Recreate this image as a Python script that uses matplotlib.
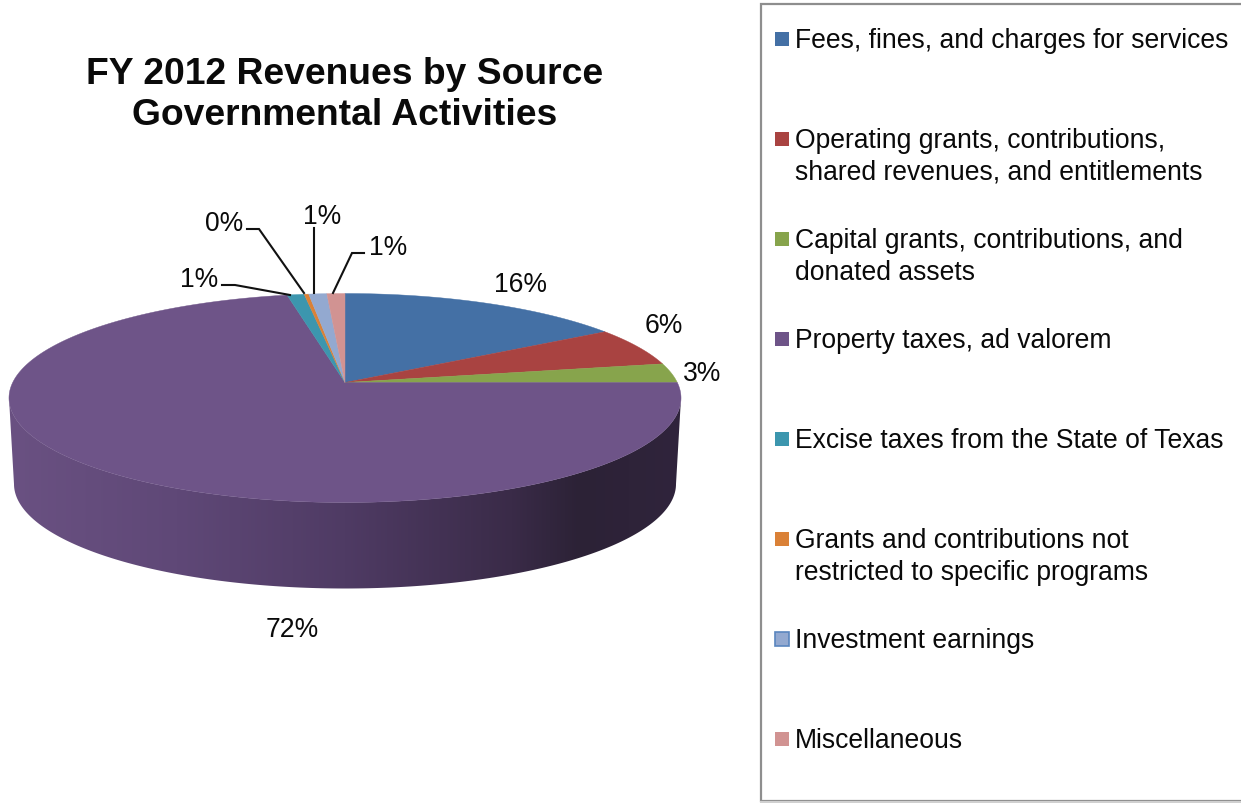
#!/usr/bin/python3

import numpy as np
import matplotlib
matplotlib.use("Agg")
import matplotlib.pyplot as plt
from matplotlib.colors import LinearSegmentedColormap
from matplotlib.patches import Polygon, Rectangle

# revenue share per source, percent
sources = [
    "Fees, fines, and charges for services",
    "Operating grants, contributions,\nshared revenues, and entitlements",
    "Capital grants, contributions, and\ndonated assets",
    "Property taxes, ad valorem",
    "Excise taxes from the State of Texas",
    "Grants and contributions not\nrestricted to specific programs",
    "Investment earnings",
    "Miscellaneous",
]
shares = [16, 6, 3, 71.8, 0.95, 0.25, 1.0, 1.0]
colors = ["#4470a5", "#a94341", "#87a44c", "#6e5488",
          "#3c96ae", "#da8137", "#93a9d0", "#d19392"]

title = "FY 2012 Revenues by Source\nGovernmental Activities"

# where each percent label sits, and the path of its leader line if it has one
label_pos = [(520, 285), (664, 326), (702, 374), (292, 630),
             (199, 280), (224, 224), (322, 217), (388, 248)]
leaders = {
    4: [(222, 286), (235, 286), (290, 296)],
    5: [(247, 230), (259, 230), (304, 294)],
    6: [(314, 229), (314, 294)],
    7: [(364, 254), (352, 254), (333, 294)],
}

FONT = "Liberation Sans"
TEXT = "#0a0a0a"

# disc geometry, in pixels
CX, CY = 345, 383.5    # pie centre as seen with perspective
PERSP = 0.1483
AX_R, AY_R = 332.3, 102.2


def project(u, v):
    # unit disc -> screen, far side (v > 0) shrinks a little
    w = 1 + PERSP * v
    return CX + AX_R * u / w, CY - AY_R * v / w


def wedge(start, stop):
    # angles run clockwise from twelve o'clock
    t = np.linspace(start, stop, max(int(stop - start) * 2, 8))
    t = np.radians(t)
    x, y = project(np.sin(t), np.cos(t))
    x0, y0 = project(0.0, 0.0)
    return np.column_stack([np.r_[x0, x], np.r_[y0, y]])


fig = plt.figure(figsize=(12.41, 8.04), dpi=100)
ax = fig.add_axes([0, 0, 1, 1])

# side wall, a horizontal shade clipped to the outline between both rims
t = np.linspace(np.pi, 2 * np.pi, 200)
top_x, top_y = 345 + 336 * np.cos(t), 399 - 104.5 * np.sin(t)
bot_x, bot_y = 345 + 331 * np.cos(t), 485 - 104.5 * np.sin(t)
wall = Polygon(np.column_stack([np.r_[top_x, bot_x[::-1]], np.r_[top_y, bot_y[::-1]]]),
               closed=True, facecolor="none", edgecolor="none")
ax.add_patch(wall)
shade = LinearSegmentedColormap.from_list("wall", [
    (0.00, "#6a5182"), (0.25, "#5f4877"), (0.50, "#4f3b64"),
    (0.75, "#3a2b48"), (0.85, "#2c2236"), (1.00, "#30243c"),
])
img = ax.imshow(np.linspace(0, 1, 256)[None, :], cmap=shade, aspect="auto",
                extent=(9, 681, 600, 390), zorder=1)
img.set_clip_path(wall)

# top face
angles = np.r_[0, np.cumsum(shares)] / np.sum(shares) * 360
for i, c in enumerate(colors):
    ax.add_patch(Polygon(wedge(angles[i], angles[i + 1]), closed=True,
                         facecolor=c, edgecolor=c, linewidth=0.3, zorder=2))

# percent labels and leaders
for i, v in enumerate(shares):
    x, y = label_pos[i]
    ax.text(x, y, f"{round(v)}%", ha="center", va="center", family=FONT,
            fontsize=19.1, color=TEXT, zorder=4)
    if i in leaders:
        pts = leaders[i]
        ax.plot([p[0] for p in pts], [p[1] for p in pts], color="#111111",
                lw=1.5, solid_joinstyle="miter", zorder=3)

ax.text(345, 95, title, ha="center", va="center", family=FONT, fontsize=26.8,
        fontweight="bold", color=TEXT, linespacing=1.25)

# legend box runs off the right hand side
ax.add_patch(Rectangle((761, 5), 600, 797, facecolor="white", edgecolor="#8e8e8e",
                       linewidth=1.6, zorder=1))
ax.plot([761, 1241], [803, 803], color="#d0d0d0", lw=1.5, zorder=2)

for i, name in enumerate(sources):
    row = 39.5 + 100 * i
    edge = "#5a86bf" if i == 6 else colors[i]
    ax.add_patch(Rectangle((775, row - 7), 14, 14, facecolor=colors[i], edgecolor=edge,
                           linewidth=1.2 if i == 6 else 0, zorder=3))
    ax.text(795, row - 11, name, ha="left", va="top", family=FONT, fontsize=19.1,
            color=TEXT, linespacing=1.26, zorder=4)

ax.set_xlim(0, 1241)
ax.set_ylim(804, 0)
ax.axis("off")

fig.savefig("out.png", dpi=100, facecolor="white")
